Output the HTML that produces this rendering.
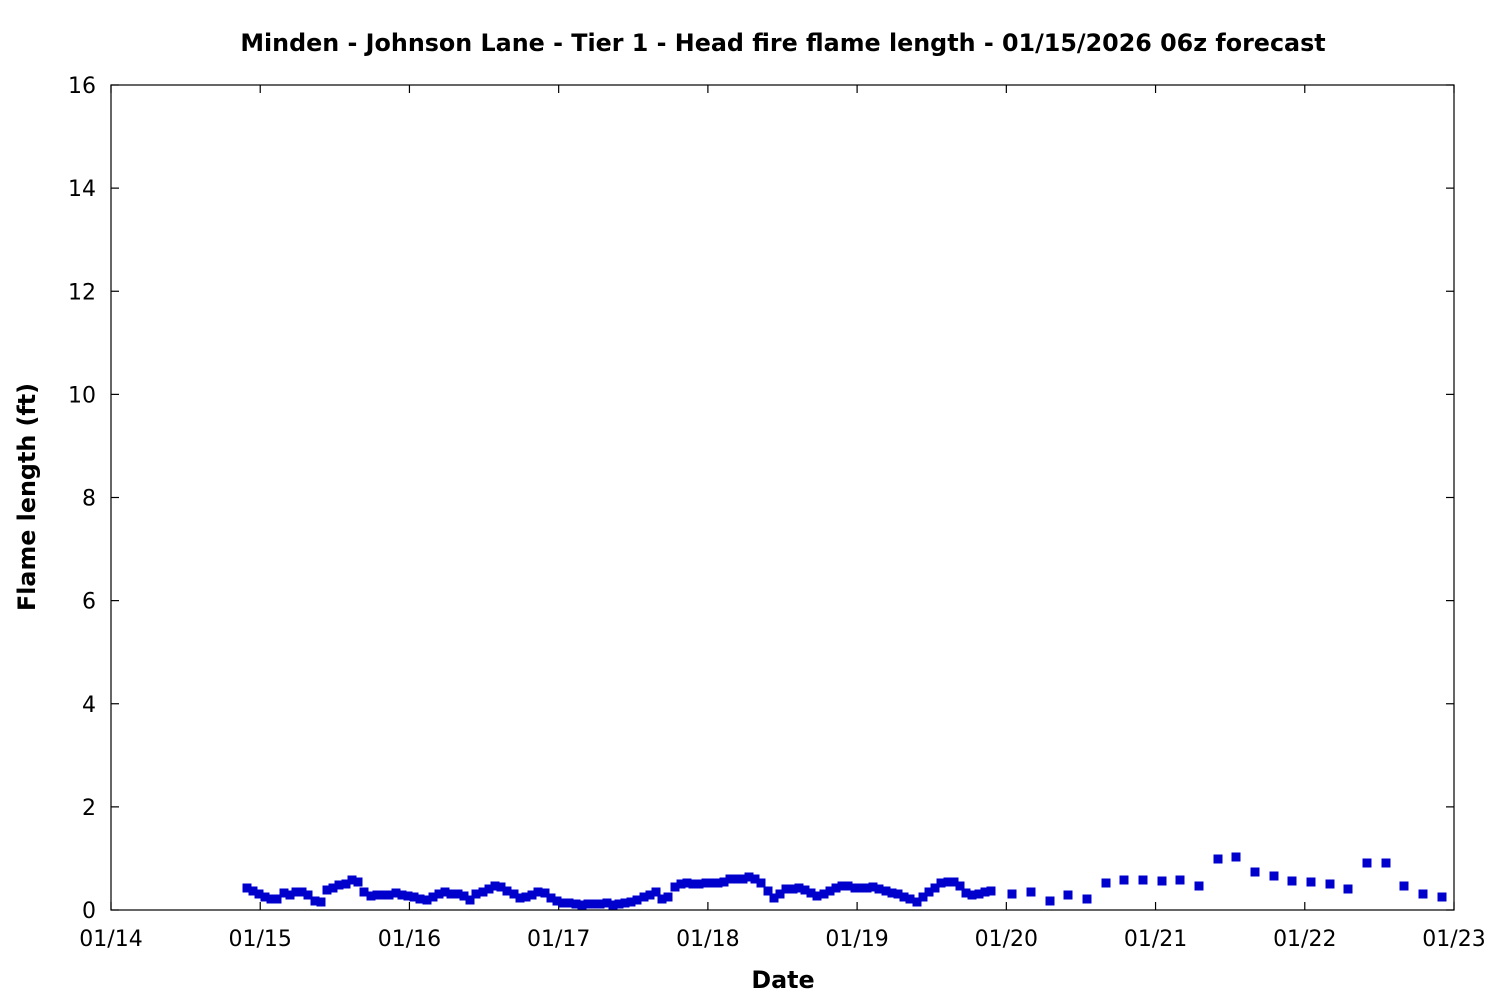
<!DOCTYPE html>
<html><head><style>body{margin:0;background:#fff}</style></head><body>
<svg id="s" width="1500" height="1000" xmlns="http://www.w3.org/2000/svg" font-family="'DejaVu Sans','Liberation Sans',sans-serif">
<rect width="1500" height="1000" fill="#fff"/>
<text x="783" y="51" text-anchor="middle" font-size="23.8" font-weight="bold">Minden - Johnson Lane - Tier 1 - Head fire flame length - 01/15/2026 06z forecast</text>
<text x="783" y="988" text-anchor="middle" font-size="23.8" font-weight="bold">Date</text>
<text transform="translate(35,497) rotate(-90)" text-anchor="middle" font-size="23.8" font-weight="bold">Flame length (ft)</text>
<g id="ax" stroke="#000" stroke-width="1.2" fill="none"></g>
<g id="lb" font-size="22" fill="#000"></g>
<g id="pts" fill="#0000cc"></g>
</svg>
<script>
var ns="http://www.w3.org/2000/svg",ax=document.getElementById('ax'),lb=document.getElementById('lb'),pts=document.getElementById('pts');
function el(p,t,a,txt){var e=document.createElementNS(ns,t);for(var k in a)e.setAttribute(k,a[k]);if(txt)e.textContent=txt;p.appendChild(e);}
el(ax,'rect',{x:111,y:85,width:1343,height:825});
for(var i=0;i<=8;i++){var y=910-i*103.125;
 el(ax,'line',{x1:111,y1:y,x2:119,y2:y});el(ax,'line',{x1:1454,y1:y,x2:1446,y2:y});
 el(lb,'text',{x:96,y:y+8,'text-anchor':'end'},String(i*2));}
var d=['01/14','01/15','01/16','01/17','01/18','01/19','01/20','01/21','01/22','01/23'];
for(var j=0;j<10;j++){var x=111+j*1343/9;
 el(ax,'line',{x1:x,y1:910,x2:x,y2:902});el(ax,'line',{x1:x,y1:85,x2:x,y2:93});
 el(lb,'text',{x:x,y:946,'text-anchor':'middle'},d[j]);}
var p=[247,888,253,891,259,894,265,897,271,899,277,899,284,893,290,895,296,892,302,892,308,895,315,901,321,902,327,890,333,888,339,885,346,884,352,880,358,882,364,892,371,896,377,895,383,895,389,895,396,893,402,895,408,896,414,897,420,899,427,900,433,897,439,894,445,892,451,894,458,894,464,896,470,900,476,894,483,892,489,889,495,886,501,887,507,891,514,894,520,898,526,897,532,895,538,892,545,893,551,898,557,901,563,903,569,903,576,904,582,905,588,904,594,904,600,904,607,903,613,905,619,904,625,903,631,902,637,900,644,897,650,895,656,892,662,899,668,897,675,887,681,884,687,883,693,884,699,884,706,883,712,883,718,883,724,882,730,879,737,879,743,879,749,877,755,879,761,883,768,891,774,898,780,894,786,889,793,889,799,888,805,890,811,893,817,896,824,894,830,891,836,888,842,886,848,886,855,888,861,888,867,888,873,887,879,889,886,891,892,893,898,894,904,897,910,899,917,902,923,897,929,892,935,888,941,883,948,882,954,882,960,886,966,893,972,895,979,894,985,892,991,891,
1012,894,1031,892,1050,901,1068,895,1087,899,1106,883,1124,880,1143,880,1162,881,1180,880,1199,886,1218,859,1236,857,1255,872,1274,876,1292,881,1311,882,1330,884,1348,889,1367,863,1386,863,1404,886,1423,894,1442,897];
for(var k=0;k<p.length;k+=2)el(pts,'rect',{x:p[k]-4.5,y:p[k+1]-4.5,width:9,height:9});
</script>
</body></html>
